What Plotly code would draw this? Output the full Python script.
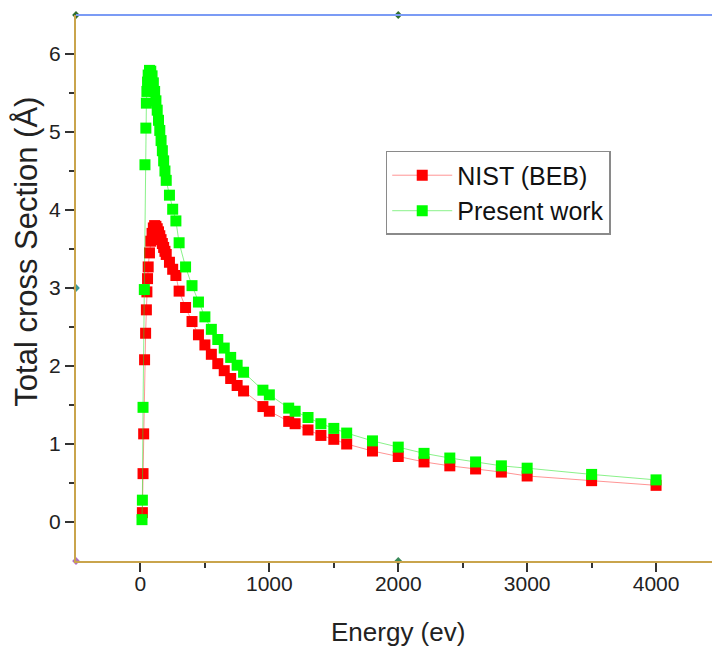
import plotly.graph_objects as go

# ---------------- data ----------------
energy_nist = [15, 20, 25, 32, 40, 46, 50, 55, 60, 70, 80, 90, 100, 110, 120, 130, 140, 150,
               160, 170, 180, 190, 200, 225, 250, 275, 300, 350, 400, 450, 500, 550, 600, 650,
               700, 750, 800, 950, 1000, 1150, 1200, 1300, 1400, 1500, 1600, 1800, 2000, 2200,
               2400, 2600, 2800, 3000, 3500, 4000]
sigma_nist = [0.12, 0.62, 1.13, 2.08, 2.42, 2.72, 2.95, 3.12, 3.27, 3.45, 3.60, 3.70, 3.77, 3.80,
              3.79, 3.76, 3.72, 3.67, 3.62, 3.57, 3.52, 3.47, 3.43, 3.33, 3.24, 3.16, 2.96, 2.75,
              2.57, 2.40, 2.27, 2.15, 2.03, 1.94, 1.84, 1.75, 1.68, 1.48, 1.42, 1.29, 1.26, 1.18,
              1.11, 1.06, 1.00, 0.91, 0.84, 0.77, 0.72, 0.68, 0.64, 0.59, 0.53, 0.47]

energy_pw = [12, 15, 20, 30, 35, 42, 46, 50, 55, 60, 70, 80, 90, 100, 110, 120, 130, 140, 150,
             160, 170, 180, 190, 200, 225, 250, 275, 300, 350, 400, 450, 500, 550, 600, 650,
             700, 750, 800, 950, 1000, 1150, 1200, 1300, 1400, 1500, 1600, 1800, 2000, 2200,
             2400, 2600, 2800, 3000, 3500, 4000]
sigma_pw = [0.03, 0.28, 1.47, 2.98, 4.58, 5.05, 5.37, 5.52, 5.64, 5.73, 5.79, 5.78, 5.72, 5.63,
            5.52, 5.40, 5.28, 5.15, 5.02, 4.89, 4.76, 4.63, 4.50, 4.38, 4.19, 4.01, 3.86, 3.58,
            3.27, 3.03, 2.82, 2.63, 2.47, 2.34, 2.23, 2.11, 2.01, 1.92, 1.69, 1.63, 1.46, 1.42,
            1.34, 1.26, 1.20, 1.14, 1.04, 0.96, 0.88, 0.82, 0.77, 0.72, 0.69, 0.61, 0.54]

series_names = ["NIST (BEB)", "Present work"]

x_major_ticks = [0, 1000, 2000, 3000, 4000]
x_minor_ticks = [500, 1500, 2500, 3500]
y_major_ticks = [0, 1, 2, 3, 4, 5, 6]
y_minor_ticks = [0.5, 1.5, 2.5, 3.5, 4.5, 5.5]

# frame handle points (Origin-style decorations)
handle_x = [-500, 2000, -500, -500, 2000]
handle_y = [6.5, 6.5, 3, -0.5, -0.5]

x_range = [-500, 4434]
y_range = [-0.5, 6.5]

FONT = "Liberation Sans, Arial, sans-serif"

fig = go.Figure()

fig.add_trace(go.Scatter(
    x=energy_nist, y=sigma_nist, name=series_names[0], mode="lines+markers",
    line=dict(color="rgba(255,60,60,0.55)", width=1),
    marker=dict(symbol="square", size=11, color="#ff0000", line=dict(width=0)),
))
fig.add_trace(go.Scatter(
    x=energy_pw, y=sigma_pw, name=series_names[1], mode="lines+markers",
    line=dict(color="rgba(40,230,40,0.55)", width=1),
    marker=dict(symbol="square", size=11, color="#00ff00", line=dict(width=0)),
))
fig.add_trace(go.Scatter(
    x=handle_x, y=handle_y, mode="markers", showlegend=False, hoverinfo="skip",
    cliponaxis=False,
    marker=dict(symbol="diamond", size=6,
                color=["#2f6d2f", "#2f6d2f", "#3a9a9a", "#b070c0", "#3a8a5a"]),
))

axis_common = dict(
    showgrid=False, zeroline=False, showline=True, linecolor="#c9a44c", linewidth=2,
    ticks="outside", tickwidth=1.5, tickcolor="#333333",
    tickfont=dict(family=FONT, size=21, color="#222222"),
)

fig.update_xaxes(range=x_range, tickmode="array", tickvals=x_major_ticks, ticklen=9,
                 ticklabelstandoff=-6,
                 minor=dict(tickmode="array", tickvals=x_minor_ticks, ticklen=5, tickwidth=1.5,
                            tickcolor="#333333", ticks="outside"),
                 **axis_common)
fig.update_yaxes(range=y_range, tickmode="array", tickvals=y_major_ticks, ticklen=9,
                 minor=dict(tickmode="array", tickvals=y_minor_ticks, ticklen=5, tickwidth=1.5,
                            tickcolor="#333333", ticks="outside"),
                 **axis_common)

fig.add_shape(type="line", xref="paper", yref="paper", x0=0, x1=1, y0=1, y1=1,
              line=dict(color="#7b9bf5", width=2))

fig.add_annotation(text="Total cross Section (Å)", textangle=-90, showarrow=False,
                   xref="paper", yref="paper", x=-0.0775, y=0.566,
                   xanchor="center", yanchor="middle",
                   font=dict(family=FONT, size=31, color="#222222"))
fig.add_annotation(text="Energy (ev)", showarrow=False,
                   xref="paper", yref="paper", x=0.506, y=-0.130,
                   xanchor="center", yanchor="middle",
                   font=dict(family=FONT, size=26, color="#222222"))

fig.update_layout(
    width=712, height=646,
    margin=dict(l=76, r=0, t=15, b=85),
    paper_bgcolor="white", plot_bgcolor="white",
    showlegend=True,
    legend=dict(x=0.487, y=0.751, xanchor="left", yanchor="top",
                bordercolor="#8a8a8a", borderwidth=1.5, bgcolor="white",
                font=dict(family=FONT, size=25, color="#111111"),
                itemwidth=60, tracegroupgap=0),
)

fig.write_html("out.html")
